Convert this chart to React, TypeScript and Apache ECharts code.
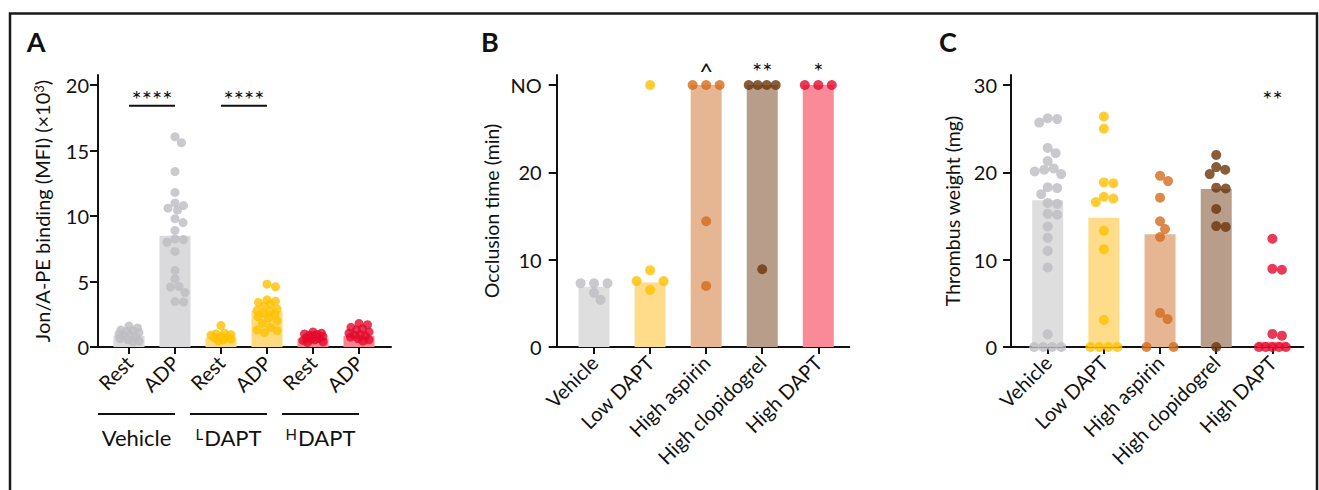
import React, { useEffect, useRef } from 'react';
import * as echarts from 'echarts';

const FONT = 'Lato, "Open Sans", sans-serif';
const INK = '#111111';

// ---------------- Panel A data ----------------
const catsA = ['Rest', 'ADP', 'Rest', 'ADP', 'Rest', 'ADP'];
const groupsA = ['Vehicle', '{s|L}DAPT', '{s|H}DAPT'];
const barsA = [0.85, 8.5, 0.7, 2.75, 0.65, 0.85];
const vehRestA = [1.6, 1.45, 1.3, 1.25, 1.2, 1.1, 1.0, 0.95, 0.85, 0.75, 0.65, 0.55, 0.45, 0.4];
const vehAdpA = [16.05, 15.6, 13.4, 11.8, 11.0, 10.8, 10.6, 10.45, 9.8, 9.5, 8.9, 8.25, 8.2, 8.0, 7.3, 5.85, 5.2, 4.62, 4.58, 4.17, 3.47, 3.43];
const lRestA = [1.65, 1.05, 1.0, 0.95, 0.9, 0.8, 0.75, 0.7, 0.6, 0.55, 0.45];
const lAdpA = [4.8, 4.6, 3.6, 3.5, 3.4, 3.3, 3.1, 2.9, 2.8, 2.75, 2.6, 2.5, 2.3, 2.2, 2.0, 1.8, 1.5, 1.3, 1.25, 1.1];
const hRestA = [1.15, 1.05, 1.0, 0.95, 0.9, 0.85, 0.8, 0.7, 0.65, 0.6, 0.55, 0.5, 0.4, 0.35];
const hAdpA = [1.8, 1.7, 1.5, 1.4, 1.3, 1.15, 1.05, 0.95, 0.9, 0.85, 0.75, 0.65, 0.55, 0.45];
const ptsA = [vehRestA, vehAdpA, lRestA, lAdpA, hRestA, hAdpA];
const sigA = ['****', '****'];
const yTicksA = [0, 5, 10, 15, 20];
const yNameA = 'Jon/A-PE binding (MFI) (×10{sup|3})';

// ---------------- Panel B data ----------------
const NO = 30;
const catsB = ['Vehicle', 'Low DAPT', 'High aspirin', 'High clopidogrel', 'High DAPT'];
const barsB = [6.9, 7.4, 30, 30, 30];
const vehB = [7.3, 7.3, 7.3, 6.2, 5.4];
const lowB = [NO, 8.8, 7.55, 7.55, 6.55];
const aspB = [NO, NO, NO, 14.4, 7.0];
const clopB = [NO, NO, NO, NO, 8.9];
const highB = [NO, NO, NO];
const ptsB = [vehB, lowB, aspB, clopB, highB];
const sigB = ['', '', '^', '**', '*'];
const yTicksB = [0, 10, 20, 30];
const yNameB = 'Occlusion time (min)';

// ---------------- Panel C data ----------------
const catsC = ['Vehicle', 'Low DAPT', 'High aspirin', 'High clopidogrel', 'High DAPT'];
const barsC = [16.8, 14.8, 12.9, 18.1, 0.6];
const vehC = [26.2, 26.1, 25.7, 22.8, 22.2, 21.3, 20.45, 20.3, 20.1, 19.8, 18.3, 18.2, 17.5, 16.5, 16.4, 15.25, 15.15, 13.8, 12.5, 11.0, 9.1, 1.45, 0, 0, 0, 0];
const lowC = [26.4, 25.0, 18.85, 18.75, 17.2, 17.0, 16.6, 13.3, 11.2, 3.1, 0, 0, 0, 0];
const aspC = [19.6, 19.0, 17.1, 14.4, 13.5, 12.6, 3.9, 3.2, 0, 0];
const clopC = [22.0, 20.6, 20.3, 19.8, 18.25, 18.15, 15.8, 13.85, 13.75, 0];
const highC = [12.4, 8.95, 8.85, 1.5, 1.3, 0, 0, 0, 0, 0];
const ptsC = [vehC, lowC, aspC, clopC, highC];
const sigC = ['', '', '', '', '**'];
const yTicksC = [0, 10, 20, 30];
const yNameC = 'Thrombus weight (mg)';

// ---------------- colours ----------------
const dotA = ['#bdbdc2', '#bdbdc2', '#ffc000', '#ffc000', '#e40a2d', '#e40a2d'];
const barColA = ['#dadadc', '#dadadc', '#ffdb80', '#ffdb80', '#f7848e', '#f7848e'];
const dot5 = ['#bdbdc2', '#ffc000', '#d36b1c', '#6b3409', '#e40a2d'];
const barCol5 = ['#dedede', '#fedc8a', '#e6b693', '#b89d8b', '#fb8a98'];

// ---------------- layout ----------------
const TOP = 75;
const HEIGHT = 272;
const PANELS = [
  { left: 98, width: 293, xMin: -0.674, xMax: 5.696, yMax: 20.77, dot: 9, sep: 8.5, half: 10, labelMargin: 9, nameGap: 46, nameSize: 20 },
  { left: 556.7, width: 292.6, xMin: -0.666, xMax: 4.553, yMax: 31.15, dot: 10, sep: 9.3, half: 13.5, labelMargin: 15, nameGap: 55, nameSize: 19.5 },
  { left: 1011, width: 292.3, xMin: -0.653, xMax: 4.55, yMax: 31.15, dot: 10, sep: 9.3, half: 13.5, labelMargin: 14, nameGap: 49, nameSize: 19.5 },
];

// simple beeswarm: returns horizontal offsets in pixels
function swarm(vals: number[], pxY: number, sep: number, half: number): number[] {
  const off: number[] = vals.map(() => NaN);
  const placed: [number, number][] = [];
  const byVal = new Map<number, number[]>();
  vals.forEach((v, i) => {
    const g = byVal.get(v) || [];
    g.push(i);
    byVal.set(v, g);
  });
  byVal.forEach((idx, v) => {
    if (idx.length < 2) return;
    const step = (2 * half) / (idx.length - 1);
    idx.forEach((i, j) => {
      off[i] = -half + j * step;
      placed.push([off[i], v * pxY]);
    });
  });
  const rest = vals.map((_, i) => i).filter((i) => isNaN(off[i])).sort((a, b) => vals[b] - vals[a]);
  for (const i of rest) {
    const y = vals[i] * pxY;
    let best = 0;
    let bestD = -Infinity;
    for (let k = 0; k <= 4 * half; k++) {
      const x = (k % 2 ? 1 : -1) * Math.ceil(k / 2) * 0.5;
      let d = Infinity;
      for (const [qx, qy] of placed) d = Math.min(d, Math.hypot(qx - x, qy - y));
      if (d >= sep) {
        best = x;
        bestD = d;
        break;
      }
      if (d > bestD) {
        bestD = d;
        best = x;
      }
    }
    off[i] = best + 0;
    placed.push([best, y]);
  }
  return off;
}

function panelSeries(p: number, pts: number[][], bars: number[], dots: string[], barCols: string[]) {
  const L = PANELS[p];
  const pxX = L.width / (L.xMax - L.xMin);
  const pxY = HEIGHT / L.yMax;
  const scatter: any[] = [];
  pts.forEach((vals, c) => {
    const off = swarm(vals, pxY, L.sep, L.half);
    vals.forEach((v, k) => {
      scatter.push({ value: [c + off[k] / pxX, v], itemStyle: { color: dots[c] } });
    });
  });
  return [
    {
      type: 'bar',
      xAxisIndex: p,
      yAxisIndex: p,
      barWidth: 31,
      z: 1,
      data: bars.map((v, c) => ({ value: [c, v], itemStyle: { color: barCols[c] } })),
    },
    {
      type: 'scatter',
      xAxisIndex: p,
      yAxisIndex: p,
      symbolSize: L.dot,
      clip: false,
      z: 3,
      data: scatter,
    },
  ];
}

function xAxisFor(p: number, cats: string[], fontSize: number) {
  const L = PANELS[p];
  const vals = cats.map((_, i) => i);
  return {
    type: 'value',
    gridIndex: p,
    min: L.xMin,
    max: L.xMax,
    splitLine: { show: false },
    axisLine: { show: true, onZero: false, lineStyle: { color: INK, width: 2 } },
    axisTick: { show: true, customValues: vals, length: 7, lineStyle: { color: INK, width: 2 } },
    axisLabel: {
      show: true,
      customValues: vals,
      rotate: 45,
      margin: 12,
      color: INK,
      fontFamily: FONT,
      fontSize,
      formatter: (v: number) => cats[Math.round(v)] ?? '',
    },
  };
}

function yAxisFor(p: number, ticks: number[], name: string, fmt?: (v: number) => string) {
  const L = PANELS[p];
  return {
    type: 'value',
    gridIndex: p,
    min: 0,
    max: L.yMax,
    name,
    nameLocation: 'middle',
    nameGap: L.nameGap,
    nameTextStyle: {
      color: INK,
      fontFamily: FONT,
      fontSize: L.nameSize,
      rich: { sup: { fontSize: 13, fontFamily: FONT, color: INK, verticalAlign: 'top', lineHeight: 13, padding: [0, 0, 9, 0] } },
    },
    splitLine: { show: false },
    axisLine: { show: true, onZero: false, lineStyle: { color: INK, width: 2 } },
    axisTick: { show: true, customValues: ticks, length: 8, lineStyle: { color: INK, width: 2 } },
    axisLabel: {
      show: true,
      customValues: ticks,
      margin: L.labelMargin,
      color: INK,
      fontFamily: FONT,
      fontSize: 20,
      formatter: (v: number) => (fmt ? fmt(v) : String(v)),
    },
  };
}

function txt(x: number, y: number, text: string, font: string, extra: any = {}) {
  return {
    type: 'text',
    x,
    y,
    silent: true,
    style: {
      text,
      font,
      fill: INK,
      align: 'center',
      verticalAlign: 'middle',
      textAlign: 'center',
      textVerticalAlign: 'middle',
      ...extra,
    },
  };
}

export default function App() {
  const ref = useRef<HTMLDivElement>(null);
  useEffect(() => {
    if (!ref.current) return;
    const chart = echarts.init(ref.current, undefined, { renderer: 'svg' });
    const option: any = {
      animation: false,
      backgroundColor: '#ffffff',
      textStyle: { fontFamily: FONT },
      grid: PANELS.map((L) => ({ left: L.left, top: TOP, width: L.width, height: HEIGHT, containLabel: false })),
      xAxis: [xAxisFor(0, catsA, 20), xAxisFor(1, catsB, 20), xAxisFor(2, catsC, 20)],
      yAxis: [
        yAxisFor(0, yTicksA, yNameA),
        yAxisFor(1, yTicksB, yNameB, (v) => (v === NO ? 'NO' : String(v))),
        yAxisFor(2, yTicksC, yNameC),
      ],
      series: [
        ...panelSeries(0, ptsA, barsA, dotA, barColA),
        ...panelSeries(1, ptsB, barsB, dot5, barCol5),
        ...panelSeries(2, ptsC, barsC, dot5, barCol5),
      ],
    };
    chart.setOption(option);

    const px = (g: number, x: number, y: number) => chart.convertToPixel({ gridIndex: g } as any, [x, y]) as number[];
    const STAR_FONT = `24px ${FONT}`;
    const STAR_SHIFT = 6;
    const g: any[] = [];
    // frame
    g.push({
      type: 'polyline',
      silent: true,
      shape: { points: [[10, 495], [10, 13.5], [1317, 13.5], [1317, 495]] },
      style: { stroke: '#1a1a1a', lineWidth: 2.5, fill: 'none' },
    });
    // panel letters
    [['A', 36, 41], ['B', 490, 41], ['C', 948, 41]].forEach(([t, x, y]) => {
      g.push(txt(x as number, y as number, t as string, `bold 27px ${FONT}`));
    });
    // Panel A significance
    sigA.forEach((s, i) => {
      const a = px(0, 2 * i, 18.43);
      const b = px(0, 2 * i + 1, 18.43);
      g.push({ type: 'line', silent: true, shape: { x1: a[0], y1: a[1], x2: b[0], y2: b[1] }, style: { stroke: INK, lineWidth: 2 } });
      const t = px(0, 2 * i + 0.5, 19.4);
      g.push(txt(t[0], t[1] + STAR_SHIFT, s, STAR_FONT));
    });
    // Panel A group brackets
    groupsA.forEach((name, i) => {
      const r = px(0, 2 * i, 0);
      const a = px(0, 2 * i + 1, 0);
      const x1 = r[0] - 31;
      const yLine = r[1] + 67;
      g.push({ type: 'line', silent: true, shape: { x1, y1: yLine, x2: a[0], y2: yLine }, style: { stroke: INK, lineWidth: 2 } });
      g.push(
        txt((x1 + a[0]) / 2, yLine + 23, name, `22px ${FONT}`, {
          rich: { s: { fontSize: 15, fontFamily: FONT, verticalAlign: 'top', lineHeight: 15, padding: [0, 1, 10, 0] } },
        })
      );
    });
    // Panel B and C stars
    sigB.forEach((s, c) => {
      if (!s) return;
      const t = px(1, c, 32.3);
      g.push(txt(t[0], t[1] + STAR_SHIFT, s, STAR_FONT));
    });
    sigC.forEach((s, c) => {
      if (!s) return;
      const t = px(2, c, 29.1);
      g.push(txt(t[0], t[1] + STAR_SHIFT, s, STAR_FONT));
    });
    chart.setOption({ graphic: g });
    return () => chart.dispose();
  }, []);
  return <div ref={ref} style={{ position: 'fixed', left: 0, top: 0, width: 1319, height: 490, background: '#fff' }} />;
}
